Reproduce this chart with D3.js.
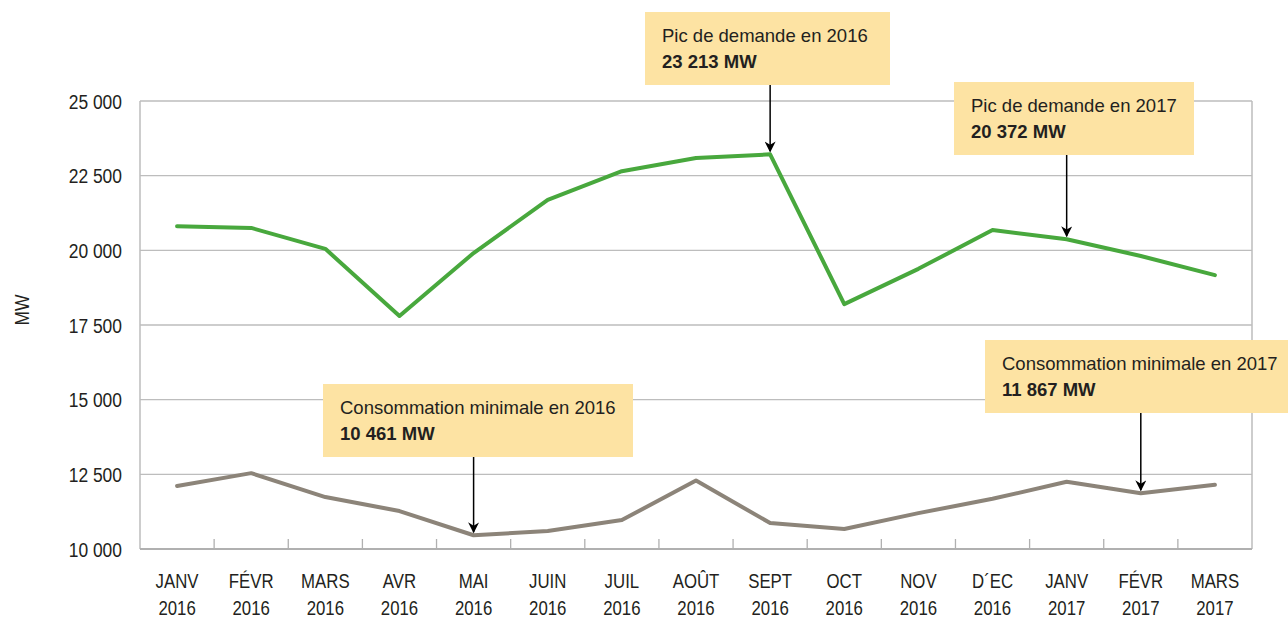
<!DOCTYPE html>
<html>
<head>
<meta charset="utf-8">
<script src="https://cdn.jsdelivr.net/npm/d3@7"></script>
<style>
  body { margin: 0; background: #fff; }
  svg text { fill: #231f20; }
</style>
</head>
<body>
<div id="chart"></div>
<script>
const months = ['JANV', 'FÉVR', 'MARS', 'AVR', 'MAI', 'JUIN', 'JUIL', 'AOÛT', 'SEPT', 'OCT', 'NOV', 'D´EC', 'JANV', 'FÉVR', 'MARS'];
const years = ['2016', '2016', '2016', '2016', '2016', '2016', '2016', '2016', '2016', '2016', '2016', '2016', '2017', '2017', '2017'];
const peakDemand = [20810, 20750, 20050, 17800, 19910, 21690, 22650, 23090, 23213, 18200, 19380, 20680, 20372, 19810, 19170];
const minConsumption = [12110, 12540, 11740, 11270, 10461, 10600, 10970, 12290, 10870, 10670, 11200, 11680, 12250, 11867, 12150];
const yTicks = [10000, 12500, 15000, 17500, 20000, 22500, 25000];

// annotations: index into the months, which series, and box position
const notes = [
  { idx: 8, series: 'peak', title: 'Pic de demande en 2016', value: '23 213 MW', bx: 645, by: 12, bw: 245 },
  { idx: 12, series: 'peak', title: 'Pic de demande en 2017', value: '20 372 MW', bx: 954, by: 82, bw: 240 },
  { idx: 4, series: 'min', title: 'Consommation minimale en 2016', value: '10 461 MW', bx: 323, by: 384, bw: 310 },
  { idx: 13, series: 'min', title: 'Consommation minimale en 2017', value: '11 867 MW', bx: 985, by: 340, bw: 303 }
];

const totalWidth = 1288, totalHeight = 618;
const margin = { left: 140, right: 36, top: 101, bottom: 69 };
const width = totalWidth - margin.left - margin.right;
const height = totalHeight - margin.top - margin.bottom;
const axisFont = '"Liberation Sans", Arial, sans-serif';
const noteFont = '"Liberation Sans", Arial, sans-serif';
const squeeze = 0.83; // condensed look for axis labels

const svg = d3.select('#chart').append('svg')
  .attr('width', totalWidth)
  .attr('height', totalHeight);

svg.append('defs').append('marker')
  .attr('id', 'arrow')
  .attr('viewBox', '0 0 10 10')
  .attr('refX', 9).attr('refY', 5)
  .attr('markerWidth', 13).attr('markerHeight', 11)
  .attr('markerUnits', 'userSpaceOnUse')
  .attr('orient', 'auto')
  .append('path')
  .attr('d', 'M0,0 L10,5 L0,10 L3,5 Z')
  .attr('fill', '#000');

const g = svg.append('g')
  .attr('transform', `translate(${margin.left},${margin.top})`);

const x = d3.scaleBand()
  .domain(d3.range(months.length))
  .range([0, width]);

const y = d3.scaleLinear()
  .domain([10000, 25000])
  .range([height, 0]);

// gridlines
g.append('g')
  .selectAll('line')
  .data(yTicks.slice(1))
  .join('line')
  .attr('x1', 0).attr('x2', width)
  .attr('y1', d => y(d)).attr('y2', d => y(d))
  .attr('stroke', '#bdbdbd')
  .attr('stroke-width', 1.3);

// frame sides
g.append('line')
  .attr('x1', 0).attr('x2', 0).attr('y1', 0).attr('y2', height)
  .attr('stroke', '#bdbdbd').attr('stroke-width', 1.5);
g.append('line')
  .attr('x1', width).attr('x2', width).attr('y1', 0).attr('y2', height)
  .attr('stroke', '#bdbdbd').attr('stroke-width', 1.5);

// y axis labels
g.append('g')
  .selectAll('text')
  .data(yTicks)
  .join('text')
  .attr('transform', d => `translate(-18,${y(d)}) scale(${squeeze},1)`)
  .attr('dy', '0.36em')
  .attr('text-anchor', 'end')
  .style('font-family', axisFont)
  .style('font-size', '21px')
  .text(d => d3.format(',')(d).replace(',', ' '));

svg.append('text')
  .attr('transform', `translate(29,310) rotate(-90) scale(${squeeze},1)`)
  .attr('text-anchor', 'middle')
  .style('font-family', axisFont)
  .style('font-size', '21px')
  .text('MW');

// x axis line + inner ticks
g.append('line')
  .attr('x1', 0).attr('x2', width).attr('y1', height).attr('y2', height)
  .attr('stroke', '#b0b0b0').attr('stroke-width', 2);
g.append('g')
  .selectAll('line')
  .data(d3.range(1, months.length))
  .join('line')
  .attr('x1', d => x(d)).attr('x2', d => x(d))
  .attr('y1', height).attr('y2', height - 10)
  .attr('stroke', '#b0b0b0').attr('stroke-width', 1.3);

const labels = g.append('g')
  .selectAll('text')
  .data(months)
  .join('text')
  .attr('transform', (d, i) => `translate(${x(i) + x.bandwidth() / 2},${height + 39}) scale(0.8,1)`)
  .attr('text-anchor', 'middle')
  .style('font-family', axisFont)
  .style('font-size', '21px');
labels.append('tspan').text(d => d);
labels.append('tspan')
  .attr('x', 0)
  .attr('dy', 27)
  .text((d, i) => years[i]);

// lines
const line = d3.line()
  .x((d, i) => x(i) + x.bandwidth() / 2)
  .y(d => y(d));

g.append('path')
  .datum(minConsumption)
  .attr('fill', 'none')
  .attr('stroke', '#8c8479')
  .attr('stroke-width', 4)
  .attr('stroke-linejoin', 'round')
  .attr('stroke-linecap', 'round')
  .attr('d', line);

g.append('path')
  .datum(peakDemand)
  .attr('fill', 'none')
  .attr('stroke', '#48a83d')
  .attr('stroke-width', 4)
  .attr('stroke-linejoin', 'round')
  .attr('stroke-linecap', 'round')
  .attr('d', line);

// annotations
const noteG = svg.append('g')
  .selectAll('g')
  .data(notes)
  .join('g');

noteG.append('line')
  .attr('x1', d => margin.left + x(d.idx) + x.bandwidth() / 2)
  .attr('x2', d => margin.left + x(d.idx) + x.bandwidth() / 2)
  .attr('y1', d => d.by + 73)
  .attr('y2', d => margin.top + y(d.series === 'peak' ? peakDemand[d.idx] : minConsumption[d.idx]) - 3)
  .attr('stroke', '#000')
  .attr('stroke-width', 1.5)
  .attr('marker-end', 'url(#arrow)');

noteG.append('rect')
  .attr('x', d => d.bx)
  .attr('y', d => d.by)
  .attr('width', d => d.bw)
  .attr('height', 73)
  .attr('fill', '#fde3a3');

noteG.append('text')
  .attr('x', d => d.bx + 17)
  .attr('y', d => d.by + 30)
  .style('font-family', noteFont)
  .style('font-size', '18.5px')
  .text(d => d.title);

noteG.append('text')
  .attr('x', d => d.bx + 17)
  .attr('y', d => d.by + 56)
  .style('font-family', noteFont)
  .style('font-size', '18.5px')
  .style('font-weight', 'bold')
  .text(d => d.value);
</script>
</body>
</html>
